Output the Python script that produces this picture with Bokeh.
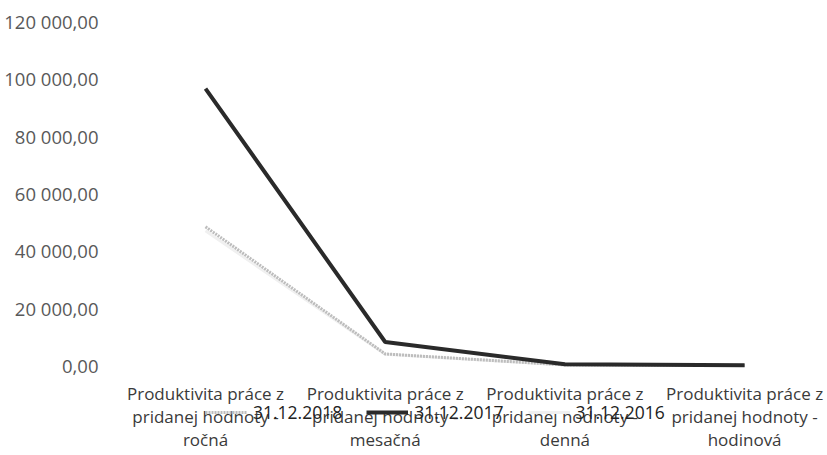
from bokeh.plotting import figure
from bokeh.models import Range1d, FixedTicker, Legend, LegendItem, CustomJSTickFormatter, ColumnDataSource
from bokeh.core.properties import value
from bokeh.embed import file_html
from bokeh.resources import INLINE

categories = [
    "Produktivita práce z\npridanej hodnoty -\nročná",
    "Produktivita práce z\npridanej hodnoty -\nmesačná",
    "Produktivita práce z\npridanej hodnoty -\ndenná",
    "Produktivita práce z\npridanej hodnoty -\nhodinová",
]
series_names = ["31.12.2018", "31.12.2017", "31.12.2016"]
v2018 = [48400, 4030, 195, 24]
v2017 = [96600, 8200, 400, 50]
v2016 = [47000, 3900, 190, 23]
y_ticks = [0, 20000, 40000, 60000, 80000, 100000, 120000]

xs = list(range(len(categories)))

W, H = 827, 455
left, top = 115, 21
px_per_unit_y = 344 / 120000.0
frame_h = H - top
y_start = 120000 - frame_h / px_per_unit_y
px_per_cat = 179.7
x_start = -90 / px_per_cat
x_end = x_start + (W - left) / px_per_cat

p = figure(width=W, height=H, output_backend="svg", toolbar_location=None,
           x_range=Range1d(x_start, x_end), y_range=Range1d(y_start, 120000),
           x_axis_location=None,
           min_border_left=left, min_border_right=0, min_border_top=top, min_border_bottom=0)
p.outline_line_color = None
p.xgrid.grid_line_color = None
p.ygrid.grid_line_color = None

r16 = p.line(xs, v2016, line_color="#f0f0f0", line_width=3)
r18 = p.line(xs, v2018, line_color="#bdbdbd", line_width=3, line_dash="2 1")
r17 = p.line(xs, v2017, line_color="#2a2a2a", line_width=4)

# category labels (three lines each)
line_offsets = [28, 51, 74]
for li, off in enumerate(line_offsets):
    src = ColumnDataSource(dict(x=xs, y=[0] * len(xs),
                                t=[c.split("\n")[li] for c in categories]))
    p.text(x="x", y="y", text="t", source=src, y_offset=off,
           text_align="center", text_baseline="middle",
           text_font=value("Open Sans"), text_font_size="17px",
           text_color="#3a3a3a")

p.yaxis.ticker = FixedTicker(ticks=y_ticks)
p.yaxis.formatter = CustomJSTickFormatter(code="""
    var s = tick.toFixed(2).replace('.', ',');
    var parts = s.split(',');
    parts[0] = parts[0].replace(/\\B(?=(\\d{3})+(?!\\d))/g, ' ');
    return parts[0] + ',' + parts[1];
""")
p.yaxis.axis_line_color = None
p.yaxis.major_tick_line_color = None
p.yaxis.minor_tick_line_color = None
p.yaxis.major_tick_out = 0
p.yaxis.major_label_standoff = 17
p.yaxis.major_label_text_font = "Open Sans"
p.yaxis.major_label_text_font_size = "18.5px"
p.yaxis.major_label_text_color = "#595959"

legend = Legend(items=[LegendItem(label=series_names[0], renderers=[r18]),
                       LegendItem(label=series_names[1], renderers=[r17]),
                       LegendItem(label=series_names[2], renderers=[r16])],
                orientation="horizontal", location=(90, 31),
                glyph_width=42, glyph_height=20, label_height=20,
                label_standoff=6, spacing=24,
                padding=0, margin=0, border_line_color=None,
                background_fill_alpha=0,
                label_text_font="Open Sans", label_text_font_size="17.5px",
                label_text_color="#222222")
p.add_layout(legend, "center")

open("out.html", "w").write(file_html(p, INLINE))
